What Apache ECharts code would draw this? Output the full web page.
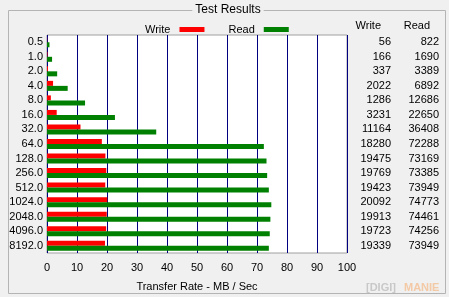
<!DOCTYPE html>
<html>
<head>
<meta charset="utf-8">
<script src="https://cdn.jsdelivr.net/npm/echarts@6/dist/echarts.min.js"></script>
<style>
html,body{margin:0;padding:0;background:#f0f0f0;}
#c{width:449px;height:297px;}
</style>
</head>
<body>
<div id="c"></div>
<script>
var categories = ['0.5','1.0','2.0','4.0','8.0','16.0','32.0','64.0','128.0','256.0','512.0','1024.0','2048.0','4096.0','8192.0'];
var writeKB = [56,166,337,2022,1286,3231,11164,18280,19475,19769,19423,20092,19913,19723,19339];
var readKB = [822,1690,3389,6892,12686,22650,36408,72288,73169,73385,73949,74773,74461,74256,73949];
var xTicks = {min:0, max:100, interval:10};

var FONT = '"Liberation Sans", Arial, sans-serif';
var chart = echarts.init(document.getElementById('c'), null, {renderer:'canvas'});
var option = {
  backgroundColor:'#f0f0f0',
  animation:false,
  textStyle:{fontFamily:FONT, fontSize:11, color:'#000'},
  legend:{
    data:['Write','Read'],
    left:140, top:19,
    align:'right',
    itemWidth:25, itemHeight:5, itemGap:24,
    icon:'rect',
    textStyle:{fontFamily:FONT, fontSize:11, color:'#000', padding:[0,4,0,0]}
  },
  grid:{left:47, right:102, top:35, bottom:39, show:true, backgroundColor:'#fff', borderColor:'#a0a0a0', borderWidth:1, containLabel:false},
  xAxis:{
    type:'value', min:xTicks.min, max:xTicks.max, interval:xTicks.interval,
    name:'Transfer Rate - MB / Sec', nameLocation:'middle', nameGap:28,
    nameTextStyle:{fontFamily:FONT, fontSize:11, color:'#000'},
    axisLine:{show:false}, axisTick:{show:false},
    axisLabel:{margin:9, fontFamily:FONT, fontSize:11, color:'#000'},
    splitLine:{show:true, lineStyle:{color:'#000080', width:1}}
  },
  yAxis:[
    {type:'category', data:categories, inverse:true,
     axisLine:{show:false}, axisTick:{show:false},
     axisLabel:{margin:4, fontFamily:FONT, fontSize:11, color:'#000'},
     splitLine:{show:false}},
    {type:'category', data:writeKB.map(String), inverse:true, position:'right',
     axisLine:{show:false}, axisTick:{show:false},
     axisLabel:{margin:44, align:'right', fontFamily:FONT, fontSize:11, color:'#000'}},
    {type:'category', data:readKB.map(String), inverse:true, position:'right', offset:0,
     axisLine:{show:false}, axisTick:{show:false},
     axisLabel:{margin:92, align:'right', fontFamily:FONT, fontSize:11, color:'#000'}}
  ],
  series:[
    {name:'Write', type:'bar', data:writeKB.map(function(v){return v/1000;}), barWidth:5, barGap:'0%', itemStyle:{color:'#ff0000'}},
    {name:'Read', type:'bar', data:readKB.map(function(v){return v/1000;}), barWidth:5, barGap:'0%', itemStyle:{color:'#008000'}}
  ],
  graphic:[
    {type:'rect', shape:{x:8.5, y:10.5, width:437, height:283}, style:{fill:'none', stroke:'#b4b4b4', lineWidth:1}, z:-1},
    {type:'text', x:228, y:10, style:{text:'Test Results', font:'12px '+FONT, fill:'#000', textAlign:'center', textVerticalAlign:'middle', backgroundColor:'#f0f0f0', padding:[0,3]}},
    {type:'text', x:381, y:26, style:{text:'Write', font:'11px '+FONT, fill:'#000', textAlign:'right', textVerticalAlign:'middle'}},
    {type:'text', x:430, y:26, style:{text:'Read', font:'11px '+FONT, fill:'#000', textAlign:'right', textVerticalAlign:'middle'}},
    {type:'text', x:366, y:288, style:{text:'[DIGI]', font:'bold 11px '+FONT, fill:'#c8c8c8', textVerticalAlign:'middle'}},
    {type:'text', x:404, y:288, style:{text:'MANIE', font:'bold 11px '+FONT, fill:'#f3c9a6', textVerticalAlign:'middle'}}
  ]
};
chart.setOption(option);
</script>
</body>
</html>
